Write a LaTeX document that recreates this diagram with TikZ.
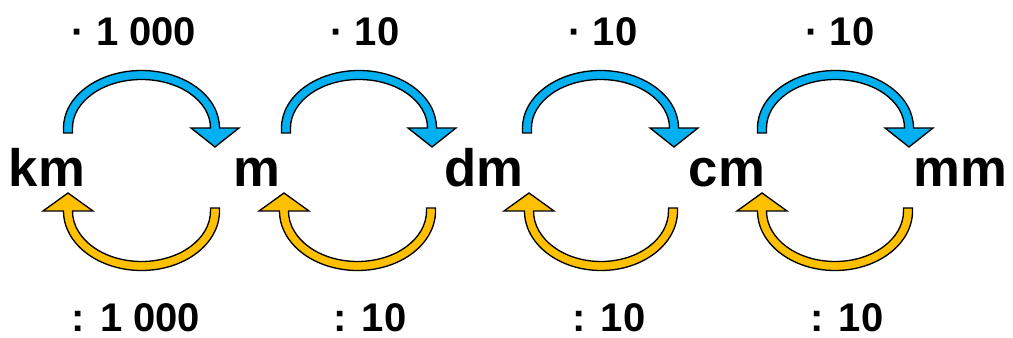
\documentclass[tikz,border=0pt]{standalone}
\usepackage{fontspec}
\setmainfont{Liberation Sans}
\definecolor{mulblue}{HTML}{00B0F0}
\definecolor{divgold}{HTML}{FFC000}
\tikzset{
	unit/.style={anchor=base, inner sep=0pt, font=\fontsize{39.5}{45}\selectfont\bfseries},
	factor/.style={anchor=base, inner sep=0pt, font=\fontsize{30}{36}\selectfont\bfseries},
	mulbow/.style={fill=mulblue, draw=black, line width=1pt, line join=miter},
	divbow/.style={fill=divgold, draw=black, line width=1pt, line join=miter}
}
% block arrow over the top, from shaft (#1) to head (#2)
\def\mularrow(#1,#2){\filldraw[mulbow] (#1-4.5,133) -- (#1-4.5,128)
	arc[start angle=180, end angle=360, x radius={(#2-#1)/2+4.5}, y radius=57.5]
	-- (#2+24,128) -- (#2,147) -- (#2-24,128) -- (#2-4.5,128)
	arc[start angle=360, end angle=180, x radius={(#2-#1)/2-4.5}, y radius=48.5]
	-- (#1+4.5,133) -- cycle;}
% block arrow under the bottom, from shaft (#2) back to head (#1)
\def\divarrow(#1,#2){\filldraw[divbow] (#2+4.5,208) -- (#2+4.5,211)
	arc[start angle=0, end angle=180, x radius={(#2-#1)/2+4.5}, y radius=59.5]
	-- (#1-25,211) -- (#1,193) -- (#1+25,211) -- (#1+4.5,211)
	arc[start angle=180, end angle=0, x radius={(#2-#1)/2-4.5}, y radius=50.5]
	-- (#2-4.5,208) -- cycle;}

\begin{document}
\begin{tikzpicture}[x=0.75pt, y=-0.75pt]
	%%%%% START %%%%%
	\useasboundingbox (0,0) rectangle (1013,338);
	
	\node[unit] (km) at (47,187) {km};
	\node[unit] (m) at (257,187) {m};
	\node[unit] (dm) at (484,187) {dm};
	\node[unit] (cm) at (727,187) {cm};
	\node[unit] (mm) at (960,187) {mm};
	
	\mularrow(68,215)
	\mularrow(286,432)
	\mularrow(527,674)
	\mularrow(762,909)
	
	\divarrow(68,215)
	\divarrow(284,431)
	\divarrow(529,673)
	\divarrow(762,908)
	
	\node[factor] (mul1) at (134,46) {· 1 000};
	\node[factor] (mul2) at (365,46) {· 10};
	\node[factor] (mul3) at (603,46) {· 10};
	\node[factor] (mul4) at (840,46) {· 10};
	
	\node[factor] (div1) at (136,331) {: 1 000};
	\node[factor] (div2) at (370,331) {: 10};
	\node[factor] (div3) at (609,331) {: 10};
	\node[factor] (div4) at (847,331) {: 10};
	%%%%% END %%%%%
\end{tikzpicture}
\end{document}
